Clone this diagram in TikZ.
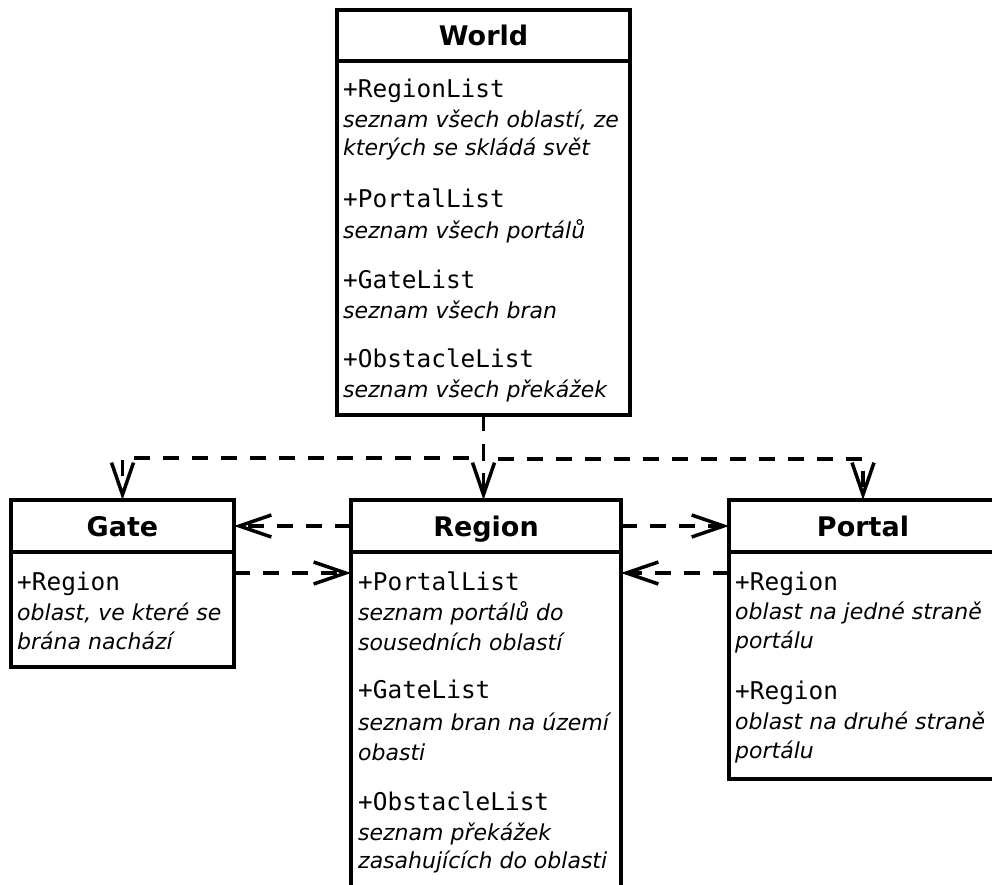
\documentclass[tikz,border=0pt]{standalone}
\usepackage{fontspec}
\setmainfont{DejaVu Sans}
\newfontfamily\monofont{DejaVu Sans Mono}
\usetikzlibrary{arrows.meta}
\begin{document}
\begin{tikzpicture}[x=1pt,y=-1pt,
  boxpart/.style={draw, line width=3.5pt, inner sep=0pt, outer sep=0pt, anchor=north west},
  titletext/.style={font=\fontsize{27}{31}\selectfont\bfseries, anchor=base, inner sep=0pt},
  mono/.style={font=\fontsize{24.4}{28}\selectfont\monofont, anchor=base west, inner sep=0pt},
  desc/.style={font=\fontsize{22}{26}\selectfont\itshape, anchor=base west, inner sep=0pt},
  dep/.style={line width=3.5pt, dash pattern=on 16pt off 13pt,
    -{Straight Barb[length=32pt,width=22pt]}},
]
\useasboundingbox (0,0) rectangle (992,885);
\clip (0,0) rectangle (992,885);

% World
\node[boxpart, minimum width=293pt, minimum height=51pt] (worldhead) at (337,10) {};
\node[boxpart, minimum width=293pt, minimum height=354pt] (worldbody) at (337,61) {};
\node[titletext] (worldtitle) at (483.5,45.5) {World};
\node[mono] (w1) at (343,98) {+RegionList};
\node[desc] (w2) at (343,128) {seznam všech oblastí, ze};
\node[desc] (w3) at (343,156) {kterých se skládá svět};
\node[mono] (w4) at (343,208) {+PortalList};
\node[desc] (w5) at (343,239) {seznam všech portálů};
\node[mono] (w6) at (343,288) {+GateList};
\node[desc] (w7) at (343,318) {seznam všech bran};
\node[mono] (w8) at (343,367) {+ObstacleList};
\node[desc] (w9) at (343,397) {seznam všech překážek};

% Gate
\node[boxpart, minimum width=223pt, minimum height=52pt] (gatehead) at (11,500) {};
\node[boxpart, minimum width=223pt, minimum height=115pt] (gatebody) at (11,552) {};
\node[titletext] (gatetitle) at (122.5,536.5) {Gate};
\node[mono] (g1) at (17,590) {+Region};
\node[desc] (g2) at (17,620) {oblast, ve které se};
\node[desc] (g3) at (17,649) {brána nachází};

% Region
\node[boxpart, minimum width=270pt, minimum height=52pt] (regionhead) at (351,500) {};
\node[boxpart, minimum width=270pt, minimum height=420pt] (regionbody) at (351,552) {};
\node[titletext] (regiontitle) at (486,536.5) {Region};
\node[mono] (r1) at (358,590) {+PortalList};
\node[desc] (r2) at (358,620) {seznam portálů do};
\node[desc] (r3) at (358,650) {sousedních oblastí};
\node[mono] (r4) at (358,698) {+GateList};
\node[desc] (r5) at (358,730) {seznam bran na území};
\node[desc] (r6) at (358,760) {obasti};
\node[mono] (r7) at (358,810) {+ObstacleList};
\node[desc] (r8) at (358,840) {seznam překážek};
\node[desc] (r9) at (358,868) {zasahujících do oblasti};

% Portal
\node[boxpart, minimum width=268pt, minimum height=52pt] (portalhead) at (729,500) {};
\node[boxpart, minimum width=268pt, minimum height=227pt] (portalbody) at (729,552) {};
\node[titletext] (portaltitle) at (863,536.5) {Portal};
\node[mono] (p1) at (735,590) {+Region};
\node[desc] (p2) at (735,619) {oblast na jedné straně};
\node[desc] (p3) at (735,648) {portálu};
\node[mono] (p4) at (735,699) {+Region};
\node[desc] (p5) at (735,729) {oblast na druhé straně};
\node[desc] (p6) at (735,758) {portálu};

% dependencies
\draw[dep] (worldbody.south) -- (worldbody.south |- regionhead.north);
\draw[dep] (worldbody.south) -- ++(0,43) -| (gatehead.north);
\draw[dep] (worldbody.south) -- ++(0,44) -| (portalhead.north);
\draw[dep] (regionhead.west) -- (gatehead.east);
\draw[dep] ([yshift=-21pt]gatebody.north east) -- ([yshift=-21pt]regionbody.north west);
\draw[dep] (regionhead.east) -- (portalhead.west);
\draw[dep] ([yshift=-21pt]portalbody.north west) -- ([yshift=-21pt]regionbody.north east);
\end{tikzpicture}
\end{document}
